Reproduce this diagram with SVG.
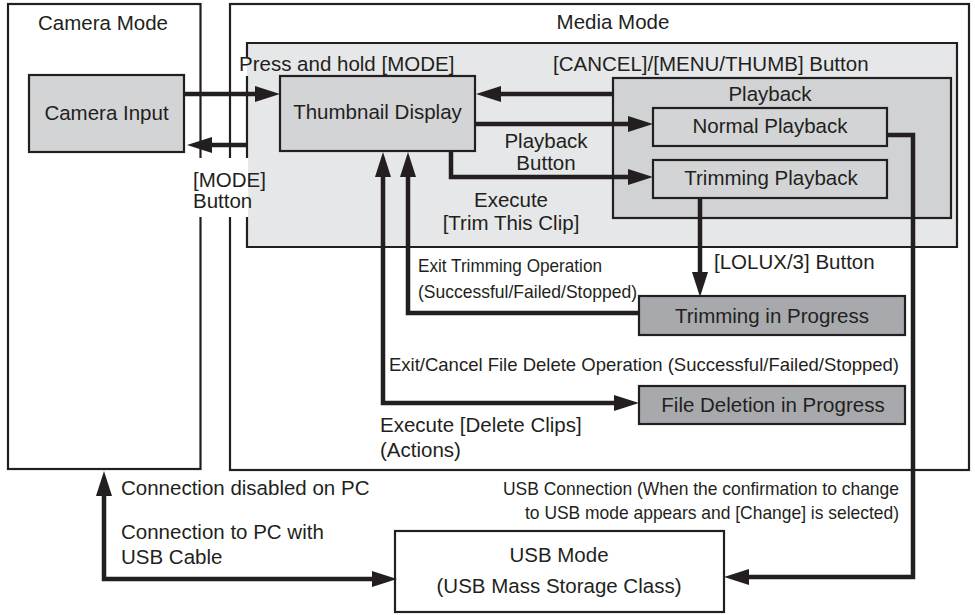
<svg xmlns="http://www.w3.org/2000/svg" width="975" height="615" viewBox="0 0 975 615">
<defs>
<style>
text{font-family:"Liberation Sans",Arial,sans-serif;font-size:20.5px;fill:#231f20}
.c{text-anchor:middle}
.e{text-anchor:end}
.n{font-size:18.5px}
.frame{fill:#fff;stroke:#231f20;stroke-width:2.2}
.box{fill:#d3d4d6;stroke:#231f20;stroke-width:2.2}
.dark{fill:#a7a9ac;stroke:#231f20;stroke-width:2.2}
.conn{fill:none;stroke:#231f20;stroke-width:4.5}
</style>
<marker id="ah" markerUnits="userSpaceOnUse" markerWidth="26" markerHeight="18" refX="3" refY="8" orient="auto-start-reverse" overflow="visible">
<path d="M0,0 L25,8 L0,16 Z" fill="#231f20"/>
</marker>
</defs>
<rect width="975" height="615" fill="#fff"/>
<g id="camera-mode">
<rect class="frame" x="8" y="4" width="192.5" height="465"/>
<text class="c" x="103" y="30">Camera Mode</text>
</g>
<g id="media-mode">
<rect class="frame" x="230" y="4" width="739" height="466"/>
<text class="c" x="613" y="29">Media Mode</text>
</g>
<g id="media-panel">
<rect x="247" y="43" width="710" height="204" fill="#e6e7e8"/>
<path d="M247,57 V43 H957 V247 H247 V76" fill="none" stroke="#231f20" stroke-width="2.2"/>
</g>
<g id="playback">
<rect x="613" y="78" width="338" height="140" fill="#d1d2d4" stroke="#231f20" stroke-width="2.2"/>
<text class="c" x="770" y="101">Playback</text>
</g>
<g id="camera-input">
<rect class="box" x="29" y="75" width="155" height="77"/>
<text class="c" x="106.5" y="120">Camera Input</text>
</g>
<g id="thumbnail-display">
<rect class="box" x="280" y="76" width="195" height="75"/>
<text class="c" x="377.5" y="119">Thumbnail Display</text>
</g>
<g id="normal-playback">
<rect class="box" x="653" y="108" width="234" height="38"/>
<text class="c" x="770" y="133">Normal Playback</text>
</g>
<g id="trimming-playback">
<rect class="box" x="653" y="160" width="234" height="38"/>
<text class="c" x="771" y="185">Trimming Playback</text>
</g>
<g id="trimming-in-progress">
<rect class="dark" x="639" y="296" width="266" height="39"/>
<text class="c" x="772" y="323">Trimming in Progress</text>
</g>
<g id="file-deletion">
<rect class="dark" x="639" y="386" width="266" height="38"/>
<text class="c" x="773" y="412">File Deletion in Progress</text>
</g>
<g id="usb-mode">
<rect class="frame" x="395" y="531" width="329" height="81"/>
<text class="c" x="559" y="562">USB Mode</text>
<text class="c" x="559" y="593">(USB Mass Storage Class)</text>
</g>
<g id="connectors">
<path class="conn" d="M184,94 H258" marker-end="url(#ah)"/>
<path class="conn" d="M247,145 H209" marker-end="url(#ah)"/>
<path class="conn" d="M613,94 H498" marker-end="url(#ah)"/>
<path class="conn" d="M475,124 H631" marker-end="url(#ah)"/>
<path class="conn" d="M451,151 V177 H631" marker-end="url(#ah)"/>
<path class="conn" d="M700,198 V275" marker-end="url(#ah)"/>
<path class="conn" d="M639,313 H408 V174" marker-end="url(#ah)"/>
<path class="conn" d="M383,174 V403 H617" marker-start="url(#ah)" marker-end="url(#ah)"/>
<path class="conn" d="M887,135 H913 V577 H746" marker-end="url(#ah)"/>
<path class="conn" d="M104,493 V579 H375" marker-start="url(#ah)" marker-end="url(#ah)"/>
</g>
<g id="labels">
<text x="239" y="71">Press and hold [MODE]</text>
<text x="553" y="71">[CANCEL]/[MENU/THUMB] Button</text>
<rect x="190" y="158" width="58.5" height="59" fill="#fff"/>
<text x="193" y="187">[MODE]</text>
<text x="193" y="208">Button</text>
<text class="c" x="546" y="148">Playback</text>
<text class="c" x="546" y="170">Button</text>
<text class="c" x="511" y="207">Execute</text>
<text class="c" x="511" y="230">[Trim This Clip]</text>
<text x="714" y="269">[LOLUX/3] Button</text>
<text class="n" x="418" y="272" textLength="184" lengthAdjust="spacingAndGlyphs">Exit Trimming Operation</text>
<text class="n" x="418" y="298" textLength="219" lengthAdjust="spacingAndGlyphs">(Successful/Failed/Stopped)</text>
<text class="n" x="389" y="371" textLength="510" lengthAdjust="spacingAndGlyphs">Exit/Cancel File Delete Operation (Successful/Failed/Stopped)</text>
<text x="380" y="432">Execute [Delete Clips]</text>
<text x="380" y="457">(Actions)</text>
<text x="121" y="495">Connection disabled on PC</text>
<text x="121" y="539">Connection to PC with</text>
<text x="121" y="564">USB Cable</text>
<text class="n e" x="899" y="495" textLength="396" lengthAdjust="spacingAndGlyphs">USB Connection (When the confirmation to change</text>
<text class="n e" x="899" y="519" textLength="374" lengthAdjust="spacingAndGlyphs">to USB mode appears and [Change] is selected)</text>
</g>
</svg>
